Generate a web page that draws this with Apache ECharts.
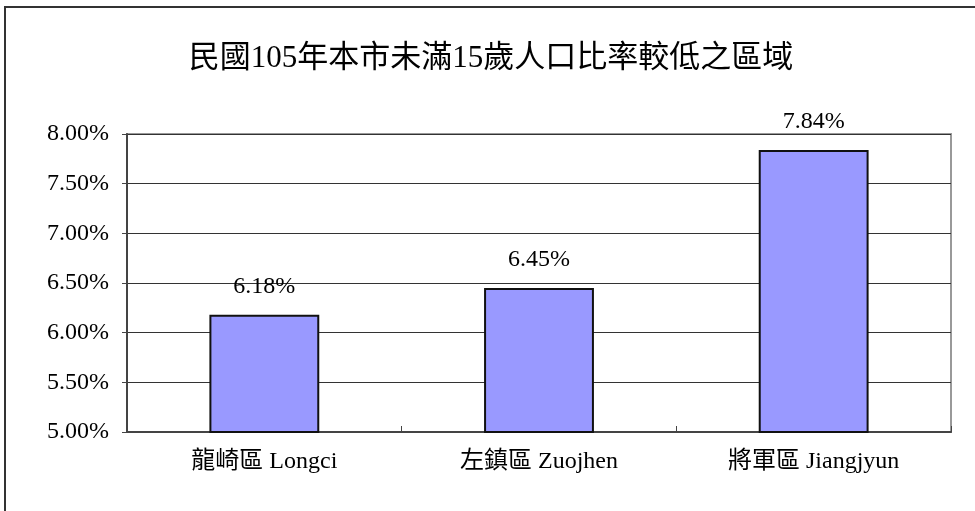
<!DOCTYPE html>
<html>
<head>
<meta charset="utf-8">
<script src="https://cdn.jsdelivr.net/npm/echarts@6/dist/echarts.min.js"></script>
<style>
  html, body { margin: 0; padding: 0; background: #fff; }
  #chart { width: 975px; height: 511px; }
</style>
</head>
<body>
<div id="chart"></div>
<script>
const title = '民國105年本市未滿15歲人口比率較低之區域'
const districts = ['龍崎區 Longci', '左鎮區 Zuojhen', '將軍區 Jiangjyun']
const ratios = [6.18, 6.45, 7.84]
const yMin = 5
const yMax = 8
const yStep = 0.5

const font = "'Liberation Serif', 'Noto Sans CJK TC', serif"

const myChart = echarts.init(document.getElementById('chart'))
const option = {
  animation: false,
  backgroundColor: '#fff',
  title: {
    text: title,
    left: 486,
    textAlign: 'center',
    top: 38,
    textStyle: { fontFamily: font, fontSize: 31, fontWeight: 'normal', color: '#000' }
  },
  graphic: [{
    type: 'polyline',
    shape: { points: [[5, 511], [5, 7], [975, 7]] },
    style: { stroke: '#333', lineWidth: 2, fill: null }
  }],
  grid: {
    left: 127, right: 24, top: 134, bottom: 79,
    show: true, borderColor: '#999', borderWidth: 2
  },
  xAxis: {
    type: 'category',
    data: districts,
    axisLine: { lineStyle: { color: '#444', width: 2 } },
    axisTick: { show: true, inside: true, length: 6, lineStyle: { color: '#444' } },
    axisLabel: { fontFamily: font, fontSize: 24, color: '#000', margin: 18 }
  },
  yAxis: {
    type: 'value',
    min: yMin, max: yMax, interval: yStep,
    axisLine: { show: true, lineStyle: { color: '#444', width: 2 } },
    axisTick: { show: true, length: 5, lineStyle: { color: '#444' } },
    splitLine: { lineStyle: { color: '#333', width: 1 } },
    axisLabel: {
      fontFamily: font, fontSize: 24, color: '#000', margin: 18,
      formatter: v => v.toFixed(2) + '%'
    }
  },
  series: [{
    type: 'bar',
    data: ratios,
    barWidth: '40%',
    itemStyle: { color: '#9999ff', borderColor: '#111', borderWidth: 2 },
    label: {
      show: true, position: 'top', distance: 16,
      fontFamily: font, fontSize: 24, color: '#000',
      formatter: p => p.value.toFixed(2) + '%'
    }
  }]
}
myChart.setOption(option)
</script>
</body>
</html>
